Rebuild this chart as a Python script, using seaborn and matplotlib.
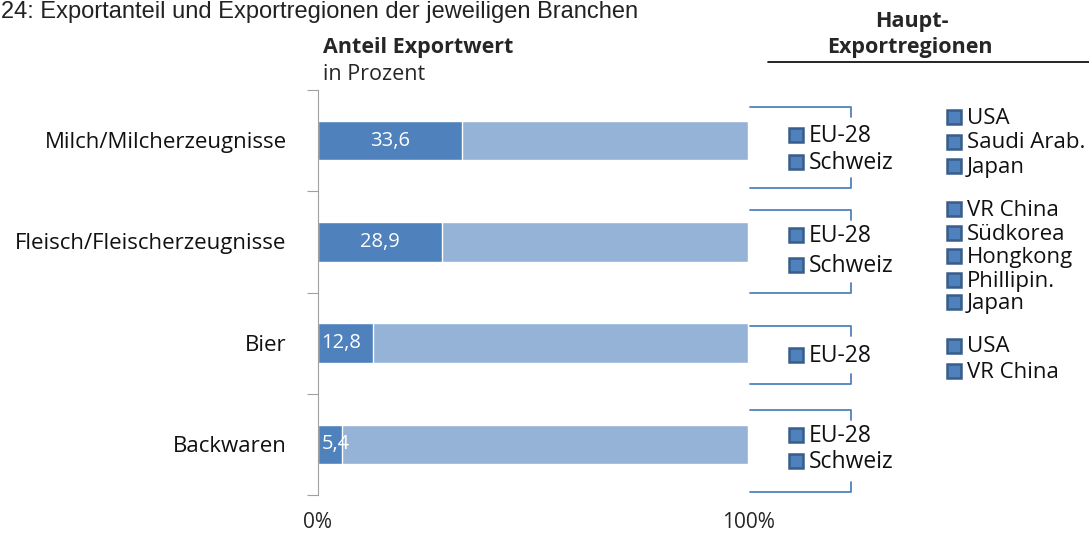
import seaborn as sns
import matplotlib.pyplot as plt
import pandas as pd

# data
branchen = ['Milch/Milcherzeugnisse', 'Fleisch/Fleischerzeugnisse', 'Bier', 'Backwaren']
exportanteil = [33.6, 28.9, 12.8, 5.4]
bar_len = [33.6, 28.9, 12.8, 5.6]
regionen_eu = [['EU-28', 'Schweiz'], ['EU-28', 'Schweiz'], ['EU-28'], ['EU-28', 'Schweiz']]
regionen_welt = [['USA', 'Saudi Arab.', 'Japan'],
                 ['VR China', 'Südkorea', 'Hongkong', 'Phillipin.', 'Japan'],
                 ['USA', 'VR China'],
                 []]

dark = '#4F81BD'
light = '#95B3D7'
edge = '#385D8A'

sns.set_style('white')
plt.rcParams['font.family'] = ['Open Sans', 'DejaVu Sans']

W, H = 1089, 535
fig = plt.figure(figsize=(W / 100, H / 100), dpi=100)

df = pd.DataFrame({'branche': branchen, 'wert': bar_len, 'total': [100] * len(branchen)})

ax = fig.add_axes([318 / W, 1 - 495 / H, 430 / W, 405 / H])
sns.barplot(data=df, x='total', y='branche', color=light, saturation=1, width=0.39, ax=ax)
sns.barplot(data=df, x='wert', y='branche', color=dark, saturation=1, width=0.39, ax=ax)
ax.set_xlim(0, 100)
ax.set_ylim(3.5, -0.5)
ax.set_xlabel('')
ax.set_ylabel('')
for s in ['top', 'right', 'bottom']:
    ax.spines[s].set_visible(False)
ax.spines['left'].set_color('#A0A0A0')
ax.set_xticks([])
ax.set_yticks([-0.5, 0.5, 1.5, 2.5, 3.5])
ax.set_yticklabels([])
ax.tick_params(axis='y', length=8, color='#A0A0A0', left=True)
for i, name in enumerate(branchen):
    ax.text(-7.3, i + 0.02, name, ha='right', va='center', fontsize=16, color='#111111')
    lbl = f'{exportanteil[i]:.1f}'.replace('.', ',')
    if bar_len[i] > 15:
        ax.text(bar_len[i] / 2, i, lbl, ha='center', va='center', fontsize=14.5, color='white')
    else:
        ax.text(0.8, i, lbl, ha='left', va='center', fontsize=14.5, color='white')
ax.text(0, -0.068, '0%', transform=ax.transAxes, ha='center', va='center', fontsize=15)
ax.text(1, -0.068, '100%', transform=ax.transAxes, ha='center', va='center', fontsize=15)

# overlay in pixel coordinates
ov = fig.add_axes([0, 0, 1, 1])
ov.set_xlim(0, W)
ov.set_ylim(H, 0)
ov.axis('off')

ov.text(1, 18, '24: Exportanteil und Exportregionen der jeweiligen Branchen',
        family='Liberation Sans', fontsize=17, va='baseline', ha='left', color='#222222')
ov.text(323, 47, 'Anteil Exportwert', fontsize=15.5, fontweight='bold', va='center')
ov.text(323, 74, 'in Prozent', fontsize=15.5, va='center')
ov.text(912, 21, 'Haupt-', fontsize=15.5, fontweight='bold', va='center', ha='center')
ov.text(910, 47, 'Exportregionen', fontsize=15.5, fontweight='bold', va='center', ha='center')
ov.plot([768, 1089], [62, 62], color='black', lw=1.2)

brackets = [(107, 188), (210, 293), (326, 384), (410, 492)]
eu_y = [[135, 162], [235, 265], [355], [435, 461]]
welt_y = [[117, 142, 166], [209, 233, 256, 280, 302], [346, 371], []]

for (top, bot) in brackets:
    ov.plot([750, 851, 851], [top, top, top + 10], color=dark, lw=1.3)
    ov.plot([750, 851, 851], [bot, bot, bot - 10], color=dark, lw=1.3)


def marker(x, y, label, size):
    ov.add_patch(plt.Rectangle((x - 7, y - 7), 14, 14, facecolor=dark,
                               edgecolor=edge, lw=1.8))
    ov.text(x + 13, y + 1, label, fontsize=size, va='center', ha='left', color='#111111')


for i in range(len(branchen)):
    for lab, y in zip(regionen_eu[i], eu_y[i]):
        marker(796, y, lab, 16.5)
    for lab, y in zip(regionen_welt[i], welt_y[i]):
        marker(954, y, lab, 16)

fig.savefig('out.png', dpi=100)
